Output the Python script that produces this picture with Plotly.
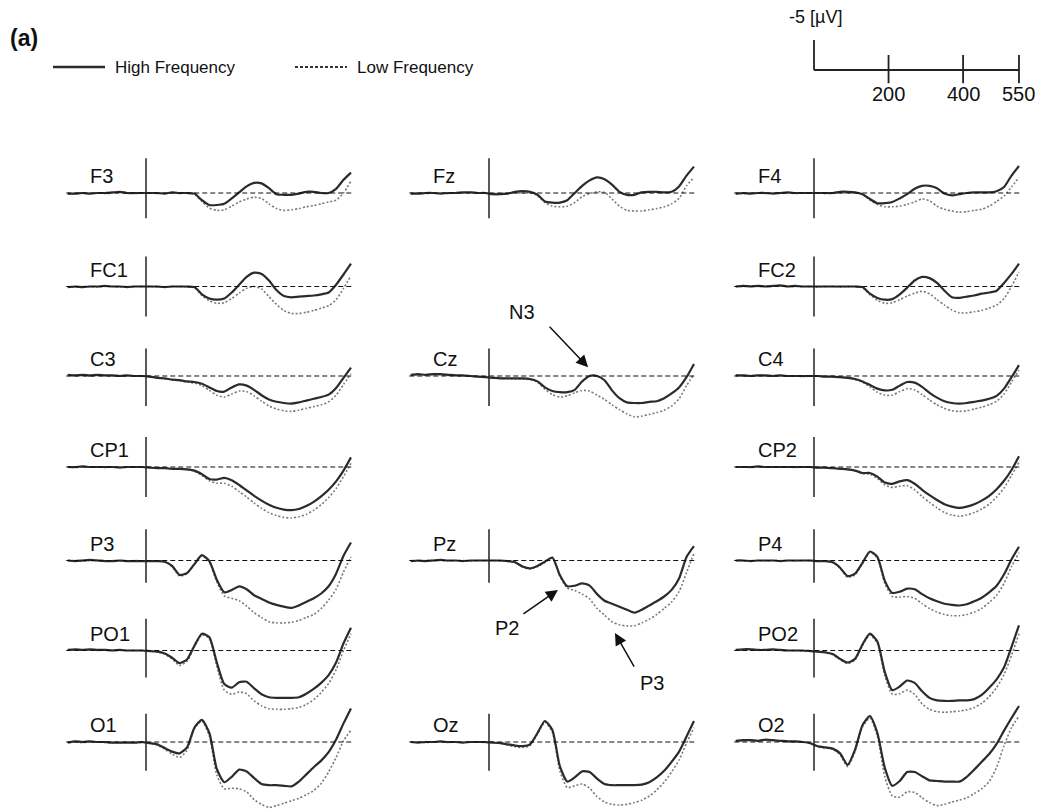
import plotly.graph_objects as go

# ---------------------------------------------------------------- data
# sample times (ms) and grand-average ERP amplitudes (µV, negative up)
times = list(range(-210, 551, 20))

channels = ["F3", "Fz", "F4", "FC1", "FC2", "C3", "Cz", "C4",
            "CP1", "CP2", "P3", "Pz", "P4", "PO1", "PO2", "O1", "Oz", "O2"]

high_F3 = [0.1, 0.1, 0.0, 0.1, 0.0, 0.0, -0.1, -0.2, 0.0, 0.0, 0.0, 0.0, 0.0, 0.1, -0.1, 0.0, 0.0, 0.1, 1.2, 2.0, 2.0, 1.8, 0.9, -0.1, -1.1, -1.7, -1.6, -0.8, 0.2, 0.3, 0.3, 0.1, -0.2, -0.2, 0.0, 0.0, -0.7, -2.2, -3.4]
low_F3 = [0.2, 0.1, 0.0, 0.1, 0.0, 0.1, 0.0, -0.1, 0.0, 0.1, 0.0, 0.0, 0.1, 0.0, 0.0, 0.1, 0.0, 0.2, 1.4, 2.5, 2.9, 2.8, 2.2, 1.5, 1.0, 0.7, 0.9, 1.8, 2.6, 2.9, 2.8, 2.6, 2.3, 2.1, 1.8, 1.5, 1.2, 0.0, -2.0]

high_Fz = [0.1, 0.1, 0.0, 0.0, 0.1, 0.0, 0.0, -0.1, -0.1, 0.0, 0.0, 0.2, 0.2, 0.1, -0.2, -0.3, -0.2, 0.3, 1.4, 1.6, 1.6, 1.2, 0.0, -1.2, -2.1, -2.6, -2.3, -1.4, -0.2, 0.3, 0.3, -0.1, -0.2, -0.2, -0.1, -0.2, -1.1, -2.9, -4.4]
low_Fz = [0.1, 0.0, 0.1, 0.0, 0.0, 0.1, 0.0, 0.0, -0.1, 0.0, 0.0, 0.1, 0.1, 0.1, 0.0, 0.0, 0.0, 0.4, 1.6, 2.2, 2.3, 2.2, 1.6, 0.6, 0.1, -0.2, -0.1, 1.0, 2.2, 2.9, 3.0, 3.0, 2.8, 2.6, 2.3, 1.8, 0.9, -1.2, -2.6]

high_F4 = [0.1, 0.0, 0.1, 0.0, 0.0, 0.1, 0.0, -0.1, 0.0, 0.0, 0.0, 0.0, 0.0, 0.0, -0.2, -0.2, -0.1, 0.2, 1.0, 1.7, 1.7, 1.5, 0.9, 0.2, -0.7, -1.2, -1.2, -0.8, 0.1, 0.4, 0.2, 0.0, -0.1, -0.1, -0.1, -0.3, -1.0, -2.9, -4.5]
low_F4 = [0.1, 0.1, 0.0, 0.0, 0.1, 0.0, 0.0, 0.0, 0.1, 0.0, 0.0, 0.0, 0.1, 0.0, 0.0, 0.0, 0.0, 0.2, 1.2, 1.9, 2.3, 2.3, 2.2, 1.9, 1.5, 1.0, 1.3, 2.2, 2.7, 3.0, 3.2, 3.1, 2.9, 2.7, 2.2, 1.4, 0.5, -1.0, -2.6]

high_FC1 = [0.1, 0.0, 0.1, 0.0, 0.0, -0.1, 0.0, 0.0, 0.1, 0.0, 0.0, 0.0, 0.0, 0.1, 0.0, 0.0, 0.0, 0.1, 1.3, 2.0, 2.2, 2.0, 1.0, -0.3, -1.6, -2.3, -2.1, -1.0, 0.6, 1.6, 1.8, 1.7, 1.6, 1.5, 1.3, 1.0, -0.3, -2.0, -3.8]
low_FC1 = [0.1, 0.1, 0.0, 0.0, 0.1, 0.0, 0.0, 0.1, 0.0, 0.0, 0.0, 0.0, 0.1, 0.1, 0.0, 0.0, 0.1, 0.2, 1.5, 2.4, 2.8, 2.7, 2.0, 1.1, 0.3, 0.0, 0.4, 1.7, 3.0, 4.0, 4.5, 4.5, 4.3, 4.0, 3.6, 3.2, 2.2, 0.3, -1.8]

high_FC2 = [0.0, -0.1, 0.0, -0.1, 0.0, -0.1, -0.2, 0.0, -0.1, 0.0, 0.0, 0.0, 0.0, 0.0, 0.0, 0.0, 0.0, 0.1, 1.2, 1.9, 2.2, 2.1, 1.3, 0.2, -1.0, -1.6, -1.4, -0.6, 0.7, 1.8, 1.9, 1.7, 1.5, 1.2, 1.0, 0.7, -0.6, -2.1, -3.8]
low_FC2 = [0.0, 0.0, -0.1, 0.0, 0.0, -0.1, -0.1, 0.0, 0.0, 0.0, 0.0, 0.1, 0.0, 0.0, 0.1, 0.0, 0.0, 0.2, 1.4, 2.3, 2.8, 2.7, 2.2, 1.6, 1.1, 0.8, 1.2, 2.2, 3.1, 3.9, 4.4, 4.4, 4.2, 4.0, 3.6, 3.1, 2.0, 0.0, -2.4]

high_C3 = [-0.2, -0.1, -0.2, -0.1, -0.2, -0.1, -0.1, 0.0, -0.1, 0.0, 0.0, 0.1, 0.3, 0.4, 0.6, 0.7, 0.9, 1.0, 1.3, 1.9, 2.5, 2.6, 1.9, 1.4, 1.6, 2.3, 3.2, 3.9, 4.3, 4.5, 4.6, 4.4, 4.1, 3.8, 3.5, 3.1, 2.0, 0.3, -1.4]
low_C3 = [-0.1, -0.1, -0.1, 0.0, -0.1, -0.1, 0.0, 0.0, 0.0, 0.0, 0.0, 0.1, 0.3, 0.4, 0.6, 0.8, 1.0, 1.2, 1.6, 2.4, 3.2, 3.5, 3.0, 2.5, 2.6, 3.3, 4.2, 5.0, 5.5, 5.8, 5.9, 5.7, 5.4, 5.1, 4.8, 4.3, 3.2, 1.4, -0.4]

high_Cz = [-0.2, -0.3, -0.2, -0.3, -0.3, -0.2, -0.1, -0.1, 0.0, 0.1, 0.2, 0.3, 0.4, 0.4, 0.4, 0.4, 0.5, 0.9, 1.9, 2.5, 2.7, 2.7, 2.3, 0.9, 0.0, 0.0, 0.7, 2.4, 3.7, 4.4, 4.5, 4.5, 4.3, 4.2, 3.7, 2.9, 1.9, 0.2, -2.0]
low_Cz = [-0.1, -0.2, -0.2, -0.2, -0.2, -0.1, -0.1, 0.0, 0.0, 0.1, 0.2, 0.3, 0.4, 0.4, 0.5, 0.5, 0.6, 1.0, 2.2, 3.1, 3.5, 3.3, 2.8, 2.4, 2.5, 3.2, 3.9, 4.8, 5.6, 6.3, 6.8, 6.7, 6.4, 6.1, 5.7, 5.0, 3.8, 1.6, -0.3]

high_C4 = [-0.1, -0.1, 0.0, -0.1, -0.1, 0.0, -0.1, 0.0, 0.0, 0.0, 0.0, 0.0, 0.1, 0.1, 0.2, 0.3, 0.5, 0.9, 1.5, 2.1, 2.4, 2.3, 1.6, 1.0, 1.1, 1.8, 2.8, 3.6, 4.2, 4.5, 4.6, 4.5, 4.3, 4.1, 3.8, 3.3, 2.1, 0.2, -1.8]
low_C4 = [-0.1, 0.0, 0.0, -0.1, 0.0, 0.0, 0.0, 0.0, 0.0, 0.1, 0.0, 0.0, 0.1, 0.1, 0.2, 0.3, 0.6, 1.0, 1.8, 2.7, 3.2, 3.2, 2.6, 2.1, 2.3, 3.1, 4.0, 4.8, 5.4, 5.8, 5.9, 5.8, 5.5, 5.2, 4.8, 4.2, 3.0, 1.0, -1.0]

high_CP1 = [0.0, 0.0, -0.1, 0.0, 0.0, 0.0, 0.0, 0.1, 0.0, 0.0, 0.0, 0.1, 0.2, 0.2, 0.3, 0.3, 0.4, 0.6, 1.2, 2.0, 2.1, 1.8, 2.2, 3.0, 3.9, 4.8, 5.6, 6.3, 6.8, 7.1, 7.2, 7.0, 6.5, 5.8, 4.9, 3.8, 2.4, 0.6, -1.6]
low_CP1 = [0.0, 0.1, 0.0, 0.0, 0.0, 0.1, 0.0, 0.0, 0.0, 0.0, 0.0, 0.1, 0.2, 0.2, 0.3, 0.3, 0.4, 0.7, 1.4, 2.3, 2.7, 2.7, 3.2, 4.1, 5.0, 6.0, 6.9, 7.6, 8.1, 8.4, 8.5, 8.3, 7.9, 7.2, 6.3, 5.1, 3.6, 1.6, -0.6]

high_CP2 = [0.0, 0.0, 0.0, -0.1, 0.0, 0.0, 0.0, 0.0, 0.0, 0.0, 0.0, 0.1, 0.1, 0.2, 0.3, 0.4, 0.6, 1.0, 1.0, 1.6, 2.6, 2.8, 2.4, 2.2, 2.8, 3.8, 4.7, 5.5, 6.2, 6.6, 6.8, 6.6, 6.2, 5.6, 4.8, 3.7, 2.3, 0.5, -1.8]
low_CP2 = [0.0, 0.0, 0.1, 0.0, 0.0, 0.0, 0.0, 0.0, 0.1, 0.0, 0.0, 0.1, 0.1, 0.2, 0.3, 0.4, 0.6, 1.1, 1.2, 1.9, 3.0, 3.4, 3.2, 3.1, 3.8, 4.9, 5.9, 6.8, 7.6, 8.0, 8.2, 8.0, 7.6, 7.0, 6.2, 5.0, 3.5, 1.4, -0.8]

high_P3 = [0.0, 0.1, 0.0, -0.1, 0.0, 0.1, 0.1, 0.0, 0.1, 0.1, 0.1, 0.1, 0.1, 0.2, 0.9, 2.4, 2.1, 0.6, -0.9, 0.1, 3.2, 5.3, 4.9, 4.3, 4.8, 5.8, 6.4, 7.0, 7.4, 7.7, 7.9, 7.5, 6.9, 6.3, 5.5, 4.3, 2.2, -0.8, -3.0]
low_P3 = [0.0, 0.0, 0.1, 0.0, 0.0, 0.1, 0.0, 0.1, 0.1, 0.0, 0.1, 0.1, 0.1, 0.2, 1.0, 2.6, 2.2, 0.6, -0.8, 0.3, 3.6, 5.9, 6.3, 6.7, 7.6, 8.7, 9.5, 10.2, 10.4, 10.4, 10.3, 10.0, 9.5, 9.0, 8.0, 6.6, 4.8, 1.9, -0.6]

high_Pz = [0.1, 0.0, 0.1, 0.0, -0.1, 0.0, 0.0, 0.1, 0.0, 0.0, 0.0, 0.0, 0.0, 0.1, 0.3, 1.0, 1.3, 0.9, 0.2, -0.5, 2.4, 4.3, 4.2, 3.8, 4.2, 5.6, 6.7, 7.2, 7.7, 8.2, 8.7, 8.2, 7.5, 6.8, 6.0, 4.9, 3.0, -0.6, -2.4]
low_Pz = [0.0, 0.1, 0.0, 0.0, 0.0, 0.1, 0.0, 0.0, 0.1, 0.0, 0.0, 0.0, 0.1, 0.1, 0.3, 1.1, 1.4, 1.0, 0.3, -0.4, 2.6, 4.6, 5.0, 5.6, 6.4, 8.0, 9.1, 10.2, 10.7, 10.9, 10.9, 10.4, 9.8, 9.0, 8.0, 6.9, 5.2, 2.0, -1.2]

high_P4 = [0.0, 0.0, 0.1, 0.0, 0.0, 0.0, 0.1, 0.0, 0.0, 0.0, 0.0, 0.1, 0.1, 0.3, 1.2, 2.6, 2.2, 0.4, -1.5, -0.6, 3.4, 5.4, 5.2, 4.7, 4.8, 5.6, 6.3, 6.8, 7.2, 7.4, 7.5, 7.3, 6.8, 6.2, 5.3, 4.2, 2.3, -0.2, -2.3]
low_P4 = [0.0, 0.1, 0.0, 0.0, 0.1, 0.0, 0.0, 0.0, 0.1, 0.0, 0.0, 0.1, 0.1, 0.3, 1.3, 2.8, 2.4, 0.5, -1.4, -0.4, 3.8, 6.0, 6.1, 6.0, 6.3, 7.2, 8.0, 8.6, 9.0, 9.2, 9.2, 9.0, 8.6, 8.0, 7.0, 5.8, 3.8, 1.0, -1.3]

high_PO1 = [-0.1, -0.2, -0.1, -0.2, -0.1, -0.1, 0.0, -0.1, 0.0, 0.0, 0.0, 0.1, 0.2, 0.5, 1.2, 2.1, 1.5, -0.8, -2.8, -2.2, 2.0, 5.6, 6.2, 5.3, 5.2, 6.3, 7.3, 7.8, 7.9, 7.9, 7.9, 7.8, 7.2, 6.4, 5.4, 4.1, 2.0, -1.2, -3.8]
low_PO1 = [-0.1, -0.1, -0.1, -0.1, 0.0, -0.1, 0.0, 0.0, 0.0, 0.0, 0.0, 0.1, 0.2, 0.6, 1.4, 2.5, 1.8, -0.6, -2.6, -2.0, 2.6, 6.6, 7.3, 6.9, 7.2, 8.4, 9.2, 9.7, 9.8, 9.8, 9.7, 9.5, 9.0, 8.2, 7.0, 5.5, 3.2, 0.0, -2.8]

high_PO2 = [-0.1, -0.2, -0.2, -0.1, -0.1, -0.2, -0.1, 0.0, 0.0, 0.0, 0.1, 0.2, 0.3, 0.6, 1.4, 2.0, 1.4, -1.0, -2.8, -1.5, 3.6, 6.6, 6.0, 5.0, 5.4, 6.8, 7.9, 8.3, 8.4, 8.4, 8.3, 8.3, 8.1, 7.4, 6.2, 4.8, 2.8, -0.6, -4.2]
low_PO2 = [-0.1, -0.1, -0.2, -0.1, -0.1, -0.1, 0.0, 0.0, 0.0, 0.1, 0.1, 0.2, 0.3, 0.7, 1.5, 2.2, 1.6, -0.8, -2.6, -1.2, 4.2, 7.3, 7.2, 6.6, 7.3, 8.9, 9.8, 10.2, 10.3, 10.2, 10.1, 9.9, 9.5, 8.8, 7.7, 6.2, 4.0, 0.8, -2.8]

high_O1 = [0.1, -0.1, 0.0, -0.1, 0.0, 0.0, 0.1, 0.1, 0.1, 0.1, 0.0, 0.2, 0.4, 1.0, 1.6, 1.9, 0.9, -2.4, -3.7, -1.5, 4.5, 6.7, 5.8, 4.6, 4.9, 6.0, 7.0, 7.2, 7.2, 7.3, 7.4, 6.6, 5.4, 4.2, 3.1, 1.7, -0.4, -3.1, -5.6]
low_O1 = [0.0, 0.0, 0.1, 0.0, 0.0, 0.1, 0.1, 0.1, 0.0, 0.1, 0.1, 0.2, 0.5, 1.2, 2.0, 2.6, 1.4, -2.2, -3.5, -1.0, 5.5, 7.8, 7.7, 7.8, 8.3, 9.6, 10.4, 10.9, 10.6, 10.2, 9.8, 9.4, 8.8, 8.1, 6.9, 5.0, 2.6, -0.2, -2.0]

high_Oz = [0.0, 0.1, 0.0, 0.0, -0.1, 0.0, 0.0, 0.1, 0.0, 0.0, 0.0, 0.1, 0.2, 0.4, 0.6, 0.7, 0.4, -1.5, -3.5, -2.0, 4.0, 6.6, 5.9, 4.9, 5.0, 6.1, 7.0, 7.2, 7.2, 7.2, 7.2, 7.1, 6.7, 5.9, 4.8, 3.3, 1.6, -0.9, -3.5]
low_Oz = [0.0, 0.0, 0.1, 0.0, 0.0, 0.1, 0.0, 0.1, 0.0, 0.0, 0.1, 0.1, 0.2, 0.5, 0.8, 0.9, 0.6, -1.3, -3.3, -1.6, 4.8, 7.6, 7.3, 7.0, 7.7, 9.1, 10.0, 10.4, 10.5, 10.4, 10.1, 9.7, 9.0, 8.0, 6.7, 5.0, 3.0, 0.2, -2.4]

high_O2 = [-0.2, -0.3, -0.3, -0.2, -0.4, -0.3, -0.2, -0.1, -0.1, 0.0, 0.2, 0.7, 0.9, 1.1, 1.9, 3.8, 1.3, -2.8, -4.3, -1.5, 4.3, 7.3, 6.5, 5.0, 5.0, 5.7, 6.4, 6.5, 6.6, 6.6, 6.6, 5.8, 4.6, 3.3, 2.0, 0.3, -1.9, -4.0, -6.0]
low_O2 = [-0.2, -0.2, -0.3, -0.2, -0.3, -0.2, -0.2, -0.1, 0.0, 0.0, 0.2, 0.8, 1.0, 1.2, 2.1, 4.1, 1.6, -2.5, -4.0, -1.0, 5.8, 9.0, 9.2, 8.3, 8.4, 9.3, 10.1, 10.6, 10.4, 10.0, 9.7, 9.3, 8.6, 7.8, 6.6, 4.2, 0.6, -2.4, -4.3]

scale_ticks_ms = [200, 400, 550]
scale_amp_uv = -5

high = {c: globals()["high_" + c] for c in channels}
low = {c: globals()["low_" + c] for c in channels}

# ---------------------------------------------------------------- layout
W, H = 1041, 809
PX_PER_MS = 0.3727
PX_PER_UV = 6.0
X_RANGE = (-240, 580)          # ms shown in each panel
Y_ABOVE, Y_BELOW = 9, 13       # µV shown above / below the baseline

col_zero_px = [146, 489, 814]
row_base_px = [193, 286.5, 376, 467, 560.5, 650.5, 742]
# extent of the 0-ms marker in each row (µV, negative up)
row_marker = [(-5.8, 4.2), (-5.0, 5.0), (-4.6, 5.0), (-5.0, 5.0),
              (-5.2, 3.7), (-5.3, 4.5), (-4.7, 4.8)]

layout_pos = {
    "F3": (0, 0), "Fz": (0, 1), "F4": (0, 2),
    "FC1": (1, 0), "FC2": (1, 2),
    "C3": (2, 0), "Cz": (2, 1), "C4": (2, 2),
    "CP1": (3, 0), "CP2": (3, 2),
    "P3": (4, 0), "Pz": (4, 1), "P4": (4, 2),
    "PO1": (5, 0), "PO2": (5, 2),
    "O1": (6, 0), "Oz": (6, 1), "O2": (6, 2),
}

FONT = "Liberation Sans, Arial, Helvetica, sans-serif"
TEXT = "#111"
SOLID_COLOR = "#2b2b2b"
DOT_COLOR = "#7a7a7a"

fig = go.Figure()
layout = dict(
    width=W, height=H, margin=dict(l=0, r=0, t=0, b=0),
    paper_bgcolor="white", plot_bgcolor="rgba(0,0,0,0)",
    showlegend=False, font=dict(family=FONT, size=17, color=TEXT),
)
shapes, annotations = [], []


def add_axes(idx, zero_px, base_px):
    """Create an x/y axis pair whose ms/µV scales map onto the given pixel anchor."""
    left = zero_px + X_RANGE[0] * PX_PER_MS
    right = zero_px + X_RANGE[1] * PX_PER_MS
    top = base_px - Y_ABOVE * PX_PER_UV
    bottom = min(base_px + Y_BELOW * PX_PER_UV, H)
    xname, yname = f"xaxis{idx}", f"yaxis{idx}"
    layout[xname] = dict(domain=[left / W, right / W], range=list(X_RANGE),
                         visible=False, fixedrange=True, anchor=f"y{idx}")
    layout[yname] = dict(domain=[1 - bottom / H, 1 - top / H],
                         range=[(bottom - base_px) / PX_PER_UV, (top - base_px) / PX_PER_UV],
                         visible=False, fixedrange=True, anchor=f"x{idx}")
    return f"x{idx}", f"y{idx}"


def text_at(s, x_px, y_px, size, anchor="center"):
    annotations.append(dict(text=s, xref="paper", yref="paper", x=x_px / W, y=1 - y_px / H,
                            xanchor=anchor, yanchor="middle", showarrow=False,
                            font=dict(size=size, family=FONT, color=TEXT)))


axis_of = {}
for i, ch in enumerate(channels, start=1):
    r, c = layout_pos[ch]
    xr, yr = add_axes(i, col_zero_px[c], row_base_px[r])
    axis_of[ch] = (xr, yr)

    # dashed zero line and the stimulus-onset marker
    shapes.append(dict(type="line", xref=xr, yref=yr, x0=-214, x1=557, y0=0, y1=0,
                       line=dict(color="#111", width=1.2, dash="5px,3px")))
    m0, m1 = row_marker[r]
    shapes.append(dict(type="line", xref=xr, yref=yr, x0=0, x1=0, y0=m0, y1=m1,
                       line=dict(color="#222", width=1.5)))

    fig.add_trace(go.Scatter(x=times, y=low[ch], xaxis=xr, yaxis=yr, mode="lines",
                             line=dict(color=DOT_COLOR, width=1.6, dash="2px,2px",
                                       shape="spline", smoothing=0.6),
                             hoverinfo="skip"))
    fig.add_trace(go.Scatter(x=times, y=high[ch], xaxis=xr, yaxis=yr, mode="lines",
                             line=dict(color=SOLID_COLOR, width=2.2,
                                       shape="spline", smoothing=0.6),
                             hoverinfo="skip"))

    annotations.append(dict(text=ch, xref=xr, yref=yr, x=-155, y=-2.8,
                            xanchor="left", yanchor="middle", showarrow=False,
                            font=dict(size=20, family=FONT, color=TEXT)))

# scale bar drawn on its own axis pair with the same ms / µV scaling
sx, sy = add_axes(len(channels) + 1, 814, 70)
shapes.append(dict(type="line", xref=sx, yref=sy, x0=0, x1=0, y0=0, y1=scale_amp_uv,
                   line=dict(color="#222", width=1.8)))
shapes.append(dict(type="line", xref=sx, yref=sy, x0=0, x1=max(scale_ticks_ms), y0=0, y1=0,
                   line=dict(color="#222", width=1.8)))
for t in scale_ticks_ms:
    shapes.append(dict(type="line", xref=sx, yref=sy, x0=t, x1=t, y0=-2.5, y1=2.2,
                       line=dict(color="#222", width=1.8)))
    annotations.append(dict(text=str(t), xref=sx, yref=sy, x=t, y=4.0,
                            xanchor="center", yanchor="middle", showarrow=False,
                            font=dict(size=20, family=FONT, color=TEXT)))
text_at(f"{scale_amp_uv} [µV]", 815, 17, 18)

# component markers
arrow_style = dict(showarrow=True, arrowhead=2, arrowsize=1.6, arrowwidth=1.5,
                   arrowcolor="#111", standoff=0, text="")
cz_x, cz_y = axis_of["Cz"]
pz_x, pz_y = axis_of["Pz"]
annotations += [
    dict(xref=cz_x, yref=cz_y, x=266, y=-1.45, ax=-40, ay=-42, **arrow_style),
    dict(xref=pz_x, yref=pz_y, x=185, y=4.9, ax=-36, ay=25, **arrow_style),
    dict(xref=pz_x, yref=pz_y, x=338, y=12.1, ax=20, ay=35, **arrow_style),
]
text_at("N3", 522, 312, 20)
text_at("P2", 507, 628, 20)
text_at("P3", 652, 683, 20)

# panel tag and condition key
annotations.append(dict(text="<b>(a)</b>", xref="paper", yref="paper", x=8 / W, y=1 - 38 / H,
                        xanchor="left", yanchor="middle", showarrow=False,
                        font=dict(size=23, family=FONT, color=TEXT)))
key_y = 1 - 67 / H
shapes.append(dict(type="line", xref="paper", yref="paper", x0=53 / W, x1=105 / W,
                   y0=key_y, y1=key_y, line=dict(color=SOLID_COLOR, width=2.6)))
shapes.append(dict(type="line", xref="paper", yref="paper", x0=295 / W, x1=347 / W,
                   y0=key_y, y1=key_y, line=dict(color="#333", width=2.2, dash="3px,2px")))
text_at("High Frequency", 113, 67, 17, "left")
text_at("Low Frequency", 355, 67, 17, "left")

layout["shapes"] = shapes
layout["annotations"] = annotations
fig.update_layout(**layout)
fig.write_html("out.html")
